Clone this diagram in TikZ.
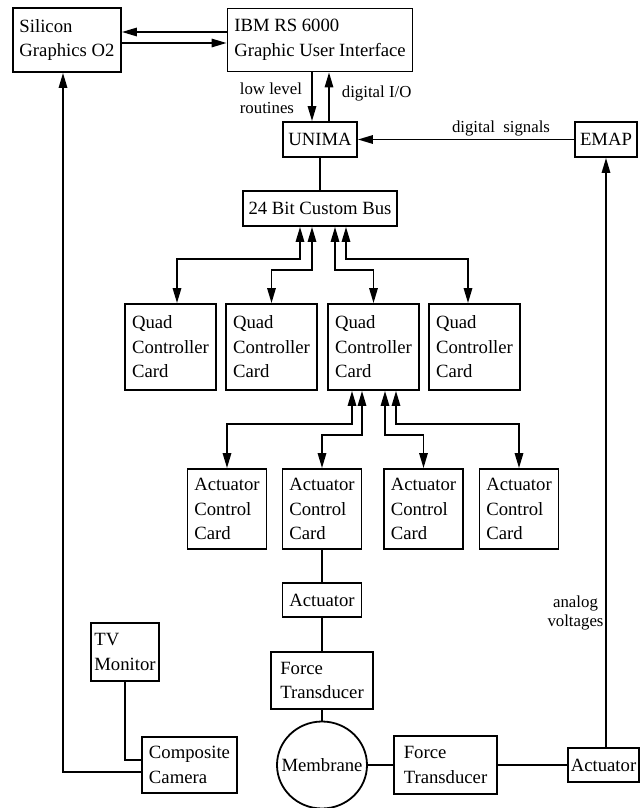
\documentclass[tikz,border=0pt]{standalone}
\usepackage{fontspec}
\setmainfont{Liberation Serif}
\usetikzlibrary{shapes,shapes.geometric,calc,arrows.meta}

\begin{document}
\begin{tikzpicture}
[x=0.5pt,y=-0.5pt,line width=0.9pt,
every node/.style={inner xsep=1pt,inner ysep=0pt},
blk/.style={draw,align=left,font=\fontsize{9.35pt}{12.3pt}\selectfont},
lbl/.style={font=\fontsize{8.4pt}{9.6pt}\selectfont},
arr/.style={-{Triangle[length=7.5pt,width=4.2pt]}},
both/.style={{Triangle[length=7.5pt,width=4.2pt]}-{Triangle[length=7.5pt,width=4.2pt]}}]
\useasboundingbox (0,0) rectangle (640,808);
\node[blk,minimum width=54pt,minimum height=32pt] (sg) at (67,40) {Silicon\\Graphics O2};
\node[blk,minimum width=92.5pt,minimum height=31.5pt] (ibm) at (320,40) {IBM RS 6000\\Graphic User Interface};
\node[blk,minimum width=37pt,minimum height=17.5pt] (unima) at (320,139.5) {UNIMA};
\node[blk,minimum width=31pt,minimum height=17.5pt] (emap) at (606,139.5) {EMAP};
\node[blk,minimum width=77pt,minimum height=17.5pt] (bus) at (320,208.5) {24 Bit Custom Bus};
\foreach \i/\x in {1/170.5,2/271.5,3/373.5,4/474.5}
  \node[blk,minimum width=45.5pt,minimum height=43pt] (q\i) at (\x,347) {Quad\\Controller\\Card};
\foreach \i/\x in {1/227,2/322,3/423.5,4/519}
  \node[blk,minimum width=39.5pt,minimum height=40pt] (acc\i) at (\x,509) {Actuator\\Control\\Card};
\node[blk,minimum width=39.5pt,minimum height=17pt] (act) at (322,600) {Actuator};
\node[blk,minimum width=51pt,minimum height=28.5pt] (ft) at (322,680.5) {Force\\Transducer};
\node[draw,ellipse,inner sep=0pt,minimum width=45pt,minimum height=43.5pt,
  font=\fontsize{9.35pt}{12.3pt}\selectfont] (mem) at (322,765) {\makebox[0pt]{Membrane}};
\node[blk,minimum width=51.5pt,minimum height=29pt] (fts) at (445.5,765) {Force\\Transducer};
\node[blk,minimum width=35.5pt,minimum height=17pt] (acts) at (603.5,765) {Actuator};
\node[blk,minimum width=47.5pt,minimum height=28pt] (cam) at (189.5,765) {Composite\\Camera};
\node[blk,minimum width=34pt,minimum height=29pt] (tv) at (125,652) {TV\\Monitor};
\node[lbl,align=left,anchor=west] (llr) at (237,98.5) {low level\\routines};
\node[lbl,anchor=west] (dio) at (339,93) {digital I/O};
\node[lbl] (dsig) at (501,128) {digital\ \ signals};
\node[lbl,align=center] (av) at (575.5,613) {analog\\voltages};
\draw[arr] ([yshift=4pt]ibm.west) -- ([yshift=4pt]sg.east);
\draw[arr] ([yshift=-1.5pt]sg.east) -- ([yshift=-1.5pt]ibm.west);
\draw[arr] ([xshift=-4pt]ibm.south) -- ([xshift=-4pt]unima.north);
\draw[arr] ([xshift=4.5pt]unima.north) -- ([xshift=4.5pt]ibm.south);
\draw[arr] (emap.west) -- (unima.east);
\draw (unima.south) -- (bus.north);
\foreach \i/\a/\b/\r in {1/-10pt/3.25pt/259,2/-4pt/0pt/270,3/7.5pt/0pt/270,4/13pt/-3.25pt/259}
  \draw[both] ([xshift=\a]bus.south) -- ([xshift=\a]bus.south |- 0,\r) -| ([xshift=\b]q\i.north);
\foreach \i/\a/\r in {1/-10.75pt/424,2/-5.75pt/435,3/5.75pt/435,4/11.25pt/424}
  \draw[both] ([xshift=\a]q3.south) -- ([xshift=\a]q3.south |- 0,\r) -| (acc\i.north);
\draw (acc2) -- (act) -- (ft) -- (mem);
\draw (mem) -- (fts) -- (acts);
\draw[arr] (acts.north -| emap.south) -- (emap.south);
\draw (tv.south) |- ([yshift=2.5pt]cam.west);
\draw[arr] ([yshift=-3.5pt]cam.west) -| ([xshift=-2pt]sg.south);
\end{tikzpicture}
\end{document}
